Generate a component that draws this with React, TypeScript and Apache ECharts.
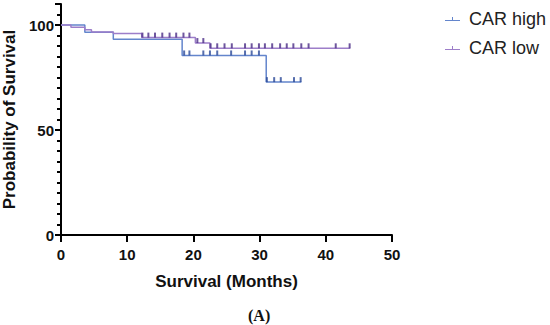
import React, { useEffect, useRef } from "react";
import * as echarts from "echarts";

// Kaplan–Meier step curves (time in months, survival in %)
const highTimes = [0, 3.6, 7.9, 18.3, 31.0, 36.3];
const highSurv = [100, 96.6, 93.2, 85.5, 72.8, 72.8];
const lowTimes = [0, 1.5, 3.6, 4.6, 7.9, 12.2, 20.3, 22.5, 43.7];
const lowSurv = [100, 98.9, 97.7, 96.7, 96.0, 94.0, 91.4, 88.9, 88.9];

// Censor marks
const highCensorTimes = [18.6, 19.4, 21.5, 22.5, 23.6, 25.7, 27.8, 28.8, 29.9, 31.1, 32.2, 33.2, 35.2, 36.2];
const highCensorSurv = [85.5, 85.5, 85.5, 85.5, 85.5, 85.5, 85.5, 85.5, 85.5, 72.8, 72.8, 72.8, 72.8, 72.8];
const lowCensorTimes = [12.3, 13.2, 14.2, 15.3, 16.4, 17.4, 18.5, 19.4, 20.6, 21.5, 22.6, 23.6, 24.7, 25.8, 27.8, 28.8, 29.9, 30.8, 31.9, 33.1, 34.1, 35.1, 36.3, 37.4, 41.5, 43.6];
const lowCensorSurv = [94.0, 94.0, 94.0, 94.0, 94.0, 94.0, 94.0, 94.0, 91.4, 91.4, 88.9, 88.9, 88.9, 88.9, 88.9, 88.9, 88.9, 88.9, 88.9, 88.9, 88.9, 88.9, 88.9, 88.9, 88.9, 88.9];

const seriesNames = ["CAR high", "CAR low"];
const yLabels = [0, 50, 100];
const xTitle = "Survival (Months)";
const yTitle = "Probability of Survival";
const panelLabel = "(A)";

const zip = (a: number[], b: number[]) => a.map((v, i) => [v, b[i]]);

export default function App() {
  const ref = useRef<HTMLDivElement>(null);
  useEffect(() => {
    if (!ref.current) return;
    document.body.style.margin = "0";
    const chart = echarts.init(ref.current, null, { renderer: "svg" });
    const font = "'Liberation Sans', Arial, sans-serif";
    const blue = "#6385cc";
    const purple = "#9d7ec9";
    const blueTick = "#2c4a98";
    const purpleTick = "#4a2c86";
    const legendIcon = "path://M0,3 L15,3 L15,4 L0,4 Z M7,0 L8,0 L8,3 L7,3 Z";
    chart.setOption({
      animation: false,
      textStyle: { fontFamily: font },
      grid: { left: 61, right: 158, top: 4, bottom: 90, containLabel: false, outerBoundsMode: "none" },
      legend: {
        data: [
          { name: seriesNames[0], icon: legendIcon, itemStyle: { color: blue } },
          { name: seriesNames[1], icon: legendIcon, itemStyle: { color: purple } },
        ],
        orient: "vertical",
        left: 440,
        top: 5,
        itemWidth: 15,
        itemHeight: 4,
        itemGap: 11,
        textStyle: { fontSize: 18, lineHeight: 18, color: "#222", fontFamily: font, padding: [0, 0, 0, 4] },
      },
      xAxis: {
        type: "value",
        min: 0,
        max: 50,
        interval: 10,
        name: xTitle,
        nameLocation: "middle",
        nameGap: 38,
        nameTextStyle: { fontSize: 17, fontWeight: "bold", color: "#111", fontFamily: font },
        axisLine: { lineStyle: { color: "#000", width: 2 } },
        axisTick: { length: 7, lineStyle: { color: "#000", width: 2 } },
        axisLabel: { fontSize: 15, fontWeight: "bold", color: "#111", margin: 12, fontFamily: font },
        splitLine: { show: false },
      },
      yAxis: [
        {
          type: "value",
          min: 0,
          max: 110,
          interval: 50,
          name: yTitle,
          nameLocation: "middle",
          nameGap: 38,
          nameTextStyle: { fontSize: 17, fontWeight: "bold", color: "#111", fontFamily: font },
          axisLine: { show: true, lineStyle: { color: "#000", width: 2 } },
          axisTick: { show: true, length: 6, lineStyle: { color: "#000", width: 2 } },
          axisLabel: {
            fontSize: 15,
            fontWeight: "bold",
            color: "#111",
            margin: 7,
            fontFamily: font,
            formatter: (v: number) => (yLabels.includes(v) ? String(v) : ""),
          },
          splitLine: { show: false },
        },
        {
          type: "value",
          min: 0,
          max: 110,
          interval: 5,
          position: "left",
          axisLine: { show: false },
          axisTick: { show: true, length: 4, lineStyle: { color: "#000", width: 2 } },
          axisLabel: { show: false },
          splitLine: { show: false },
        },
      ],
      series: [
        {
          name: seriesNames[0],
          type: "line",
          step: "end",
          data: zip(highTimes, highSurv),
          showSymbol: false,
          symbol: "none",
          lineStyle: { color: blue, width: 1.5 },
          itemStyle: { color: blue },
          z: 2,
        },
        {
          name: seriesNames[1],
          type: "line",
          step: "end",
          data: zip(lowTimes, lowSurv),
          showSymbol: false,
          symbol: "none",
          lineStyle: { color: purple, width: 1.5 },
          itemStyle: { color: purple },
          z: 2,
        },
        {
          name: "high-censor",
          type: "scatter",
          data: zip(highCensorTimes, highCensorSurv),
          symbol: "rect",
          symbolSize: [2, 5],
          symbolOffset: [0, -2.5],
          itemStyle: { color: blueTick },
          z: 3,
        },
        {
          name: "low-censor",
          type: "scatter",
          data: zip(lowCensorTimes, lowCensorSurv),
          symbol: "rect",
          symbolSize: [2, 5],
          symbolOffset: [0, -2.5],
          itemStyle: { color: purpleTick },
          z: 3,
        },
      ],
      graphic: [
        {
          type: "text",
          left: 248,
          top: 307,
          style: {
            text: panelLabel,
            font: "bold 16px 'Liberation Serif', 'Times New Roman', serif",
            fill: "#111",
          },
        },
      ],
    });
    return () => chart.dispose();
  }, []);
  return <div ref={ref} style={{ width: 550, height: 325 }} />;
}
